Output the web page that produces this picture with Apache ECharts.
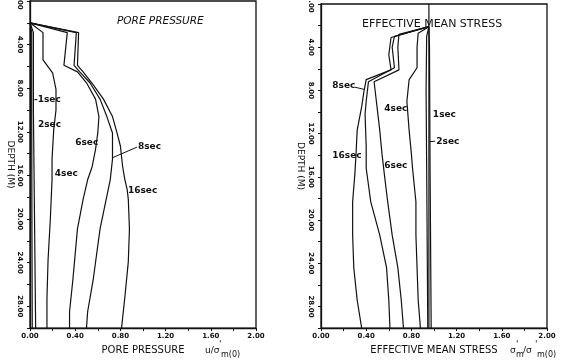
<!DOCTYPE html>
<html>
<head>
<meta charset="utf-8">
<script src="https://cdn.jsdelivr.net/npm/echarts/dist/echarts.min.js"></script>
<style>
html,body{margin:0;padding:0;background:#fff}
#main{width:572px;height:360px}
</style>
</head>
<body>
<div id="main"></div>
<script>
// pore pressure u/σ'm(0) vs depth (m), pairs [value, depth]
var pp1  = [[0,2.0],[0.015,2.9],[0.015,10],[0.017,20],[0.02,30]];
var pp2  = [[0,2.0],[0.03,2.9],[0.03,10],[0.04,20],[0.05,30]];
var pp4  = [[0,2.0],[0.115,2.9],[0.115,5.4],[0.2,6.6],[0.23,8.1],[0.23,10],[0.21,11.8],[0.195,14.5],[0.195,16.4],[0.18,20],[0.16,23.7],[0.15,27.3],[0.15,30]];
var pp6  = [[0,2.0],[0.33,2.9],[0.30,5.9],[0.42,6.5],[0.50,7.5],[0.58,9.0],[0.61,10.6],[0.60,12.1],[0.58,13.6],[0.55,15.2],[0.51,16.4],[0.47,18.2],[0.42,20.9],[0.38,25.5],[0.35,28.5],[0.35,30]];
var pp8  = [[0,2.0],[0.41,2.9],[0.39,5.9],[0.44,6.5],[0.53,7.5],[0.62,9.0],[0.68,10.6],[0.73,12.1],[0.73,13.6],[0.73,14.5],[0.71,16.4],[0.68,17.9],[0.62,20.9],[0.56,25.5],[0.51,28.5],[0.50,30]];
var pp16 = [[0,2.0],[0.43,2.9],[0.42,5.9],[0.47,6.5],[0.56,7.7],[0.65,9.0],[0.73,10.6],[0.77,12.1],[0.80,13.3],[0.82,15.2],[0.84,16.4],[0.86,17.3],[0.87,18.2],[0.88,20.9],[0.87,23.9],[0.84,27.1],[0.81,30]];

// effective mean stress σ'm/σ'm(0) vs depth (m)
var es1  = [[0.955,2.1],[0.96,4],[0.965,15],[0.975,30]];
var es2  = [[0.955,2.1],[0.935,3],[0.93,8],[0.935,15],[0.945,30]];
var es4  = [[0.955,2.1],[0.86,2.7],[0.85,4.0],[0.85,5.9],[0.78,7.0],[0.76,9.0],[0.78,11.7],[0.80,13.9],[0.81,15.2],[0.84,18.3],[0.84,21.4],[0.85,24.4],[0.86,27.4],[0.88,30]];
var es6  = [[0.955,2.1],[0.69,2.8],[0.68,4.0],[0.69,6.1],[0.47,7.2],[0.49,9.0],[0.52,11.7],[0.54,13.9],[0.56,15.7],[0.59,18.3],[0.63,21.4],[0.68,24.4],[0.71,27.4],[0.73,30]];
var es8  = [[0.955,2.1],[0.65,3.0],[0.63,4.0],[0.65,5.9],[0.42,7.2],[0.40,9.0],[0.39,10.2],[0.40,13.2],[0.40,15.2],[0.44,18.3],[0.52,21.4],[0.58,24.4],[0.60,27.4],[0.61,30]];
var es16 = [[0.955,2.1],[0.62,3.1],[0.60,4.7],[0.62,6.1],[0.40,7.0],[0.38,8.1],[0.36,9.5],[0.32,11.7],[0.31,13.9],[0.30,15.7],[0.28,18.3],[0.28,21.4],[0.29,24.4],[0.32,27.4],[0.36,30]];
var esInit = [[0.955,0],[0.955,30]];

// depth tick labels
var depthTicks = [0,4,8,12,16,20,24,28];

// curve labels: [text, grid, value, depth]
var curveLabels = [
	['-1sec',0,0.035,9.05],['2sec',0,0.07,11.3],['4sec',0,0.22,15.8],
	['6sec',0,0.40,13.0],['8sec',0,0.955,13.4],['16sec',0,0.867,17.4],
	['8sec',1,0.10,7.6],['4sec',1,0.56,9.7],['1sec',1,0.99,10.2],
	['2sec',1,1.02,12.7],['16sec',1,0.10,14.0],['6sec',1,0.56,15.0]
];
// leader lines: [grid, v1, d1, v2, d2]
var leaders = [[0,0.735,14.35,0.947,13.4],[1,0.30,7.7,0.38,7.9],[1,0.96,12.75,1.01,12.7]];

var INK = '#111';
var FONT = 'DejaVu Sans';

var chart = echarts.init(document.getElementById('main'));

function mkX(idx, name, gap){
	return {
		gridIndex: idx, type: 'value', min: 0, max: 2, interval: 0.2,
		name: name, nameLocation: 'middle', nameGap: gap,
		nameTextStyle: {fontFamily: FONT, fontSize: 10, color: INK},
		axisLine: {onZero: false, lineStyle: {color: INK, width: 1.3}},
		axisTick: {length: 3, lineStyle: {color: INK, width: 1}},
		axisLabel: {
			margin: 5, fontSize: 7, fontWeight: 'bold', fontFamily: FONT, color: INK,
			showMinLabel: true, showMaxLabel: true,
			formatter: function(v){ return Math.round(v*10)%4===0 ? v.toFixed(2) : ''; }
		},
		splitLine: {show: false}
	};
}
function mkY(idx, gap){
	return {
		gridIndex: idx, type: 'value', inverse: true, min: 0, max: 30, interval: 2,
		name: 'DEPTH (M)', nameLocation: 'middle', nameGap: gap, nameRotate: -90,
		nameTextStyle: {fontFamily: FONT, fontSize: 9, color: INK},
		axisLine: {onZero: false, lineStyle: {color: INK, width: 1.3}},
		axisTick: {length: 3, lineStyle: {color: INK, width: 1}},
		axisLabel: {show: false},
		splitLine: {show: false}
	};
}
function curve(name, data, idx){
	return {
		name: name, type: 'line', xAxisIndex: idx, yAxisIndex: idx,
		data: data, showSymbol: false, symbol: 'none', silent: true,
		lineStyle: {color: INK, width: 1.2}
	};
}

var option = {
	animation: false,
	grid: [
		{left: 30, right: 316, top: 1, bottom: 31, show: true, borderColor: INK, borderWidth: 1.3},
		{left: 321, right: 25, top: 4, bottom: 29, show: true, borderColor: INK, borderWidth: 1.3}
	],
	xAxis: [mkX(0, 'PORE PRESSURE', 13), mkX(1, 'EFFECTIVE MEAN STRESS', 14)],
	yAxis: [mkY(0, 15), mkY(1, 16)],
	series: [
		curve('1sec', pp1, 0), curve('2sec', pp2, 0), curve('4sec', pp4, 0),
		curve('6sec', pp6, 0), curve('8sec', pp8, 0), curve('16sec', pp16, 0),
		curve('1sec', es1, 1), curve('2sec', es2, 1), curve('4sec', es4, 1),
		curve('6sec', es6, 1), curve('8sec', es8, 1), curve('16sec', es16, 1),
		curve('initial', esInit, 1)
	]
};
chart.setOption(option);

// texts and leaders
var g = [];
function txt(t, x, y, size, extra, rot){
	var s = {text: t, fontFamily: FONT, fontSize: size, fill: INK, align: 'left', verticalAlign: 'middle'};
	for (var k in extra) s[k] = extra[k];
	g.push({type: 'text', x: x, y: y, rotation: rot || 0, style: s, z: 10});
}
// rotated depth tick labels, centred on their ticks
[0, 1].forEach(function(gi){
	depthTicks.forEach(function(d){
		var p = chart.convertToPixel({gridIndex: gi}, [0, d]);
		txt(d.toFixed(2), p[0] - 10, p[1], 7, {fontWeight: 'bold', align: 'center'}, -Math.PI/2);
	});
});
curveLabels.forEach(function(c){
	var p = chart.convertToPixel({gridIndex: c[1]}, [c[2], c[3]]);
	txt(c[0], p[0], p[1], 9, {fontWeight: 'bold'});
});
leaders.forEach(function(l){
	var a = chart.convertToPixel({gridIndex: l[0]}, [l[1], l[2]]);
	var b = chart.convertToPixel({gridIndex: l[0]}, [l[3], l[4]]);
	g.push({type: 'line', shape: {x1: a[0], y1: a[1], x2: b[0], y2: b[1]}, style: {stroke: INK, lineWidth: 1}, z: 10});
});
// panel titles
txt('PORE PRESSURE', 117, 21, 10.5, {fontStyle: 'italic'});
txt('EFFECTIVE MEAN STRESS', 362, 24, 11);
// axis units
txt('u/σ', 205, 351, 9);
txt("'", 219, 345, 9);
txt('m(0)', 221, 355, 8);
txt('σ', 510, 351, 9);
txt("'", 516, 345, 9);
txt('m', 516, 355, 8);
txt('/σ', 523, 351, 9);
txt("'", 535, 345, 9);
txt('m(0)', 537, 355, 8);

chart.setOption({graphic: g});
</script>
</body>
</html>
